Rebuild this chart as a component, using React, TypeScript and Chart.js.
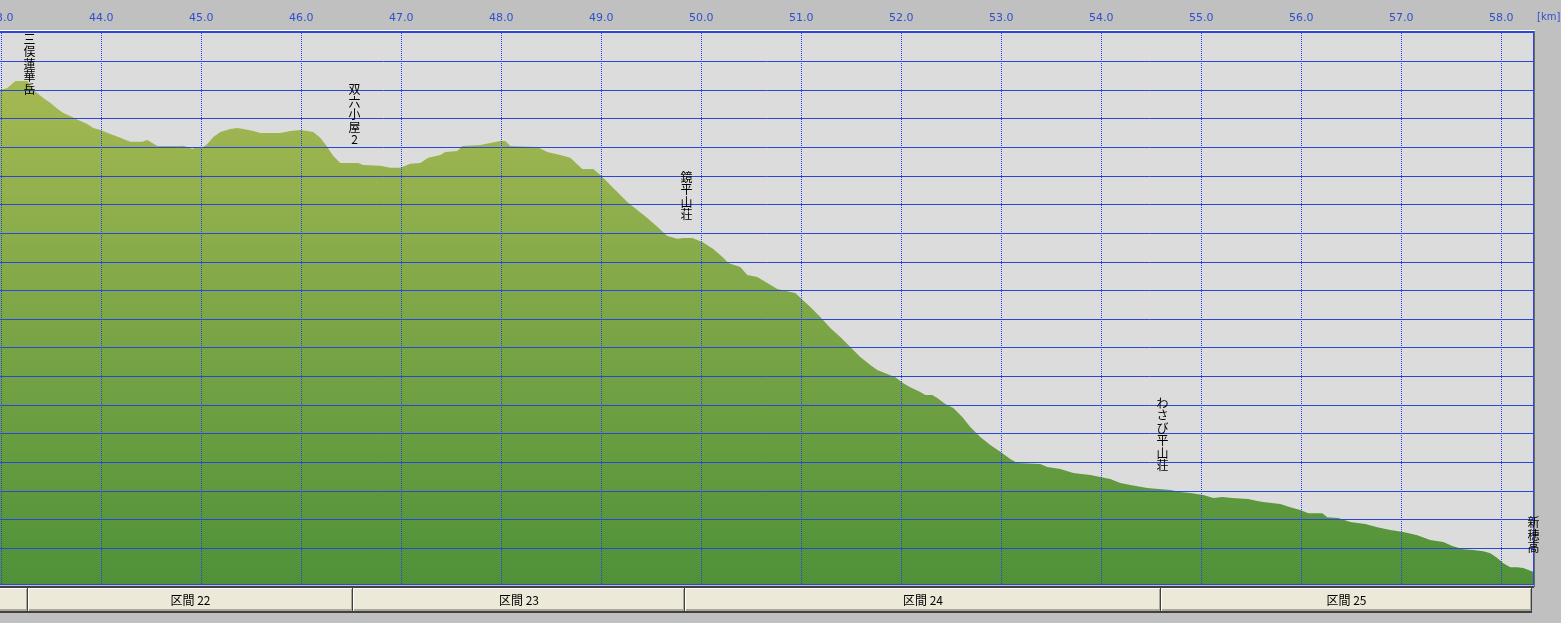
import { useEffect, useRef } from 'react';
import { Chart, registerables } from 'chart.js';

Chart.register(...registerables);

// ---- data ----
const DIST_KM = [42.98, 43.06, 43.14, 43.26, 43.32, 43.42, 43.49, 43.56, 43.62, 43.71,
  43.77, 43.86, 43.92, 43.99, 44.09, 44.19, 44.29, 44.41, 44.46, 44.51,
  44.56, 44.77, 44.82, 44.86, 44.91, 44.96, 45.02, 45.06, 45.12, 45.19,
  45.29, 45.36, 45.42, 45.52, 45.59, 45.79, 45.89, 45.99, 46.06, 46.12,
  46.19, 46.26, 46.32, 46.39, 46.47, 46.57, 46.62, 46.79, 46.89, 46.99,
  47.09, 47.19, 47.27, 47.39, 47.44, 47.56, 47.61, 47.79, 47.89, 47.99,
  48.04, 48.09, 48.36, 48.46, 48.59, 48.69, 48.81, 48.92, 48.99, 49.09,
  49.19, 49.26, 49.36, 49.46, 49.56, 49.66, 49.76, 49.82, 49.91, 50.01,
  50.12, 50.22, 50.27, 50.39, 50.46, 50.56, 50.66, 50.76, 50.94, 50.99,
  51.09, 51.19, 51.29, 51.39, 51.49, 51.59, 51.69, 51.76, 51.86, 51.94,
  52.02, 52.09, 52.19, 52.24, 52.31, 52.36, 52.44, 52.52, 52.61, 52.69,
  52.79, 52.89, 52.99, 53.09, 53.16, 53.39, 53.46, 53.59, 53.72, 53.89,
  53.99, 54.09, 54.19, 54.29, 54.46, 54.69, 54.79, 54.89, 55.02, 55.12,
  55.21, 55.31, 55.47, 55.56, 55.62, 55.79, 55.89, 55.99, 56.07, 56.21,
  56.26, 56.37, 56.49, 56.64, 56.76, 56.89, 57.02, 57.16, 57.29, 57.42,
  57.51, 57.62, 57.72, 57.82, 57.89, 57.96, 58.02, 58.09, 58.16, 58.22,
  58.33];

const ELEV_M = [2799, 2808, 2832, 2832, 2802, 2773, 2756, 2735, 2721, 2707,
  2696, 2682, 2668, 2661, 2647, 2634, 2620, 2620, 2626, 2616,
  2605, 2605, 2606, 2602, 2595, 2602, 2602, 2612, 2637, 2654,
  2665, 2668, 2665, 2658, 2651, 2651, 2658, 2661, 2658, 2654,
  2634, 2602, 2570, 2546, 2546, 2546, 2539, 2536, 2529, 2529,
  2543, 2546, 2564, 2574, 2584, 2588, 2605, 2609, 2616, 2623,
  2623, 2605, 2602, 2584, 2574, 2564, 2525, 2525, 2504, 2469,
  2434, 2410, 2382, 2354, 2323, 2291, 2281, 2284, 2284, 2270,
  2246, 2215, 2197, 2183, 2155, 2148, 2127, 2106, 2092, 2075,
  2043, 2008, 1970, 1938, 1903, 1868, 1840, 1823, 1809, 1798,
  1777, 1763, 1746, 1736, 1736, 1725, 1704, 1690, 1659, 1624,
  1589, 1561, 1537, 1512, 1498, 1495, 1484, 1477, 1463, 1456,
  1449, 1442, 1428, 1421, 1411, 1404, 1397, 1393, 1386, 1376,
  1379, 1376, 1372, 1365, 1362, 1355, 1344, 1334, 1323, 1323,
  1309, 1306, 1292, 1285, 1274, 1264, 1257, 1246, 1229, 1222,
  1208, 1197, 1194, 1190, 1183, 1166, 1148, 1134, 1134, 1131,
  1117];

const TICK_KM = [43, 44, 45, 46, 47, 48, 49, 50, 51, 52, 53, 54, 55, 56, 57, 58];
const ELEV_GRID_M = [1200, 1300, 1400, 1500, 1600, 1700, 1800, 1900, 2000, 2100,
  2200, 2300, 2400, 2500, 2600, 2700, 2800, 2900];
const AXIS_UNIT = '[km]';

const POINT_NAMES = ['三俣蓮華岳', '双六小屋2', '鏡平山荘', 'わさび平山荘', '新穂高'];
const POINT_KM = [43.27, 46.52, 49.84, 54.60, 58.31];

const SECTION_NAMES = ['区間 21', '区間 22', '区間 23', '区間 24', '区間 25'];
const SECTION_START_KM = [36.0, 43.27, 46.52, 49.84, 54.60];
const SECTION_END_KM = [43.27, 46.52, 49.84, 54.60, 58.31];

const X_MIN = 42.987;
const X_MAX = 58.317;
const Y_MIN = 1072;
const Y_MAX = 3007;

// ---- styles ----
const BLUE = '#2a48d8';
const DOT_BLUE = '#2244f0';
const TICK_BLUE = '#2f4fd0';
const PAGE_BG = '#c0c0c0';
const PLOT_BG = '#dcdcdc';
const JP_FONT = '"Noto Sans CJK JP", "Noto Sans CJK SC", sans-serif';

function elevAt(km: number): number {
  if (km <= DIST_KM[0]) return ELEV_M[0];
  for (let i = 1; i < DIST_KM.length; i++) {
    if (km <= DIST_KM[i]) {
      const t = (km - DIST_KM[i - 1]) / (DIST_KM[i] - DIST_KM[i - 1]);
      return ELEV_M[i - 1] + t * (ELEV_M[i] - ELEV_M[i - 1]);
    }
  }
  return ELEV_M[ELEV_M.length - 1];
}

const decorPlugin = {
  id: 'profileDecor',
  beforeDraw(chart: any) {
    const { ctx, chartArea: a } = chart;
    ctx.save();
    ctx.fillStyle = PAGE_BG;
    ctx.fillRect(0, 0, chart.width, chart.height);
    ctx.fillStyle = PLOT_BG;
    ctx.fillRect(a.left, a.top, a.right - a.left, a.bottom - a.top);
    ctx.restore();
  },
  afterDraw(chart: any) {
    const { ctx, chartArea: a } = chart;
    const xs = chart.scales.x;
    const ys = chart.scales.y;
    ctx.save();

    // frame
    ctx.fillStyle = '#ffffff';
    ctx.fillRect(a.left, a.top - 1, a.right - a.left + 2, 1);
    ctx.fillStyle = BLUE;
    ctx.fillRect(a.left, a.top, a.right - a.left, 2);
    ctx.fillRect(a.left, a.bottom - 1, a.right - a.left, 1);
    ctx.fillRect(a.right, a.top, 1, a.bottom - a.top);
    ctx.fillStyle = '#6a6a6a';
    ctx.fillRect(a.right + 1, a.top, 1, a.bottom - a.top + 2);

    // unit label
    ctx.fillStyle = TICK_BLUE;
    ctx.font = '10px "DejaVu Sans"';
    ctx.textAlign = 'left';
    ctx.textBaseline = 'middle';
    ctx.fillText(AXIS_UNIT, a.right + 4, 17.5);

    // vertical place names
    ctx.fillStyle = '#000000';
    ctx.font = '12px ' + JP_FONT;
    ctx.textAlign = 'center';
    ctx.textBaseline = 'top';
    const step = 12.5;
    POINT_NAMES.forEach((name, i) => {
      const km = POINT_KM[i];
      const px = Math.round(xs.getPixelForValue(km)) + 1.5;
      const py = ys.getPixelForValue(elevAt(km));
      const chars = Array.from(name);
      let top = py - 17 - chars.length * step;
      if (top < a.top + 2) top = a.top + 2;
      chars.forEach((ch, j) => ctx.fillText(ch, px, top + j * step));
    });

    // section bar
    const barTop = a.bottom + 1;
    ctx.fillStyle = '#404040';
    ctx.fillRect(0, barTop, a.right + 1, 2);
    const bTop = barTop + 2;
    const bH = 25;
    SECTION_NAMES.forEach((name, i) => {
      const raw0 = xs.getPixelForValue(SECTION_START_KM[i]);
      const raw1 = xs.getPixelForValue(SECTION_END_KM[i]);
      const b0 = Math.max(-20, Math.round(raw0));
      const b1 = Math.round(raw1);
      const w = b1 - b0;
      ctx.fillStyle = '#ece9d8';
      ctx.fillRect(b0, bTop, w, bH);
      ctx.fillStyle = '#ffffff';
      ctx.fillRect(b0, bTop, w - 1, 1);
      ctx.fillRect(b0, bTop, 1, bH - 2);
      ctx.fillStyle = '#aca899';
      ctx.fillRect(b0 + 1, bTop + bH - 4, w - 2, 2);
      ctx.fillRect(b1 - 2, bTop + 1, 1, bH - 3);
      ctx.fillStyle = '#404040';
      ctx.fillRect(b0, bTop + bH - 2, w, 2);
      ctx.fillRect(b1 - 1, bTop, 1, bH);
      const cx = (Math.round(raw0) + b1) / 2;
      ctx.fillStyle = '#000000';
      ctx.font = '12px ' + JP_FONT;
      ctx.textAlign = 'center';
      ctx.textBaseline = 'middle';
      ctx.fillText(name, cx, bTop + 12);
    });

    ctx.restore();
  },
};

export default function App() {
  const canvasRef = useRef<HTMLCanvasElement | null>(null);

  useEffect(() => {
    const canvas = canvasRef.current;
    if (!canvas) return;
    const chart = new Chart(canvas, {
      type: 'line',
      data: {
        datasets: [
          {
            data: DIST_KM.map((x, i) => ({ x, y: ELEV_M[i] })),
            fill: 'start',
            backgroundColor: (c: any) => {
              const area = c.chart.chartArea;
              if (!area) return '#8aab48';
              const g = c.chart.ctx.createLinearGradient(0, area.top, 0, area.bottom);
              g.addColorStop(0, '#aebd55');
              g.addColorStop(1, '#4f9139');
              return g;
            },
            borderColor: 'rgba(0,0,0,0)',
            borderWidth: 0,
            pointRadius: 0,
            tension: 0,
          },
        ],
      },
      options: {
        responsive: false,
        animation: false,
        events: [],
        layout: { padding: { left: 0, top: 0, right: 28, bottom: 38 } },
        plugins: { legend: { display: false }, tooltip: { enabled: false } },
        scales: {
          x: {
            type: 'linear',
            position: 'top',
            min: X_MIN,
            max: X_MAX,
            afterBuildTicks: (s: any) => {
              s.ticks = TICK_KM.map((v) => ({ value: v }));
            },
            afterFit: (s: any) => {
              s.height = 31;
              s.paddingLeft = 0;
              s.paddingRight = 0;
            },
            ticks: {
              color: TICK_BLUE,
              font: { family: 'DejaVu Sans', size: 11 },
              padding: 6,
              maxRotation: 0,
              autoSkip: false,
              callback: (v: any) => Number(v).toFixed(1),
            },
            grid: { color: DOT_BLUE, lineWidth: 1, drawTicks: false, z: 1 },
            border: { display: false, dash: [1, 1] },
          },
          y: {
            type: 'linear',
            min: Y_MIN,
            max: Y_MAX,
            afterBuildTicks: (s: any) => {
              s.ticks = ELEV_GRID_M.map((v) => ({ value: v }));
            },
            afterFit: (s: any) => {
              s.width = 0;
              s.paddingTop = 0;
              s.paddingBottom = 0;
            },
            ticks: { display: false },
            grid: { color: BLUE, lineWidth: 1, drawTicks: false, z: 1 },
            border: { display: false },
          },
        },
      },
      plugins: [decorPlugin],
    } as any);
    return () => chart.destroy();
  }, []);

  return (
    <div style={{ position: 'fixed', left: 0, top: 0, width: 1561, height: 623, background: PAGE_BG }}>
      <canvas ref={canvasRef} width={1561} height={623} style={{ display: 'block' }} />
    </div>
  );
}
